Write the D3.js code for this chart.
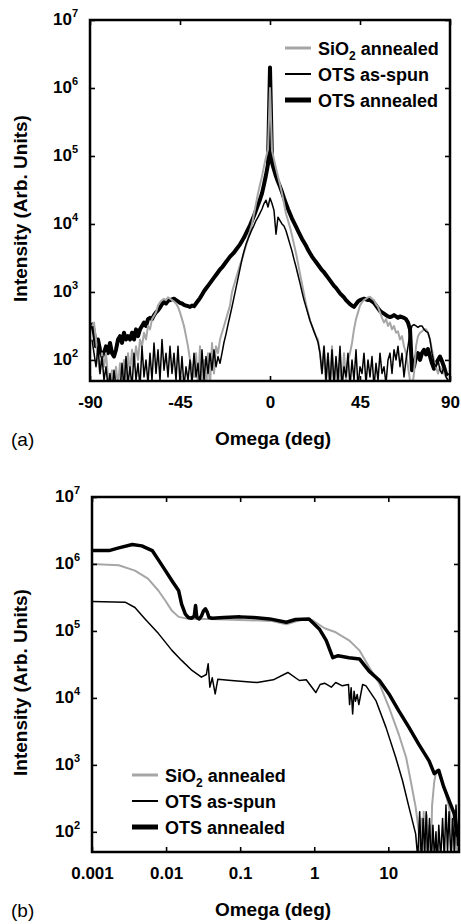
<!DOCTYPE html>
<html>
<head>
  <meta charset="utf-8">
  <title>Omega scans</title>
  <script src="https://d3js.org/d3.v7.min.js"></script>
  <style>
    body { margin: 0; background: #fff; }
    text { font-family: "Liberation Sans", Arial, sans-serif; }
  </style>
</head>
<body>
<script>
// ---- panel (a): omega from -89 to 89 deg, one sample per degree, values are log10(intensity)
var omegaA = d3.range(-89, 90);

var sio2ALog = [
  2.5, 2.55, 2.3, 2.0, 1.8, 2.1, 1.9, 2.1, 1.75, 1.6,
  1.85, 1.55, 1.9, 1.6, 1.95, 1.7, 2.0, 1.65, 2.1, 1.8,
  2.15, 1.9, 2.2, 2.0, 2.3, 2.2, 2.4, 2.3, 2.5, 2.45,
  2.6, 2.65, 2.7, 2.8, 2.85, 2.88, 2.9, 2.88, 2.92, 2.9,
  2.88, 2.86, 2.83, 2.78, 2.7, 2.6, 2.5, 2.35, 2.2, 2.0,
  1.9, 1.75, 2.1, 1.6, 2.2, 1.7, 2.0, 1.5, 2.1, 1.6,
  2.25, 1.8, 2.2, 2.1, 2.3, 2.4, 2.5, 2.6, 2.7, 2.8,
  3.0, 3.1, 3.2, 3.3, 3.4, 3.48, 3.58, 3.68, 3.78, 3.9,
  4.0, 4.15, 4.3, 4.45, 4.58, 4.7, 4.85, 4.98, 5.1, 6.0,
  5.08, 4.95, 4.82, 4.7, 4.58, 4.45, 4.3, 4.15, 4.05, 3.95,
  3.83, 3.7, 3.57, 3.42, 3.27, 3.12, 2.97, 2.82, 2.7, 2.58,
  2.5, 2.42, 2.35, 2.3, 2.1, 1.8, 2.2, 1.6, 2.1, 1.5,
  2.2, 1.6, 1.9, 1.5, 2.0, 1.6, 2.1, 1.7, 2.0, 2.1,
  2.25, 2.45, 2.6, 2.7, 2.8, 2.85, 2.88, 2.9, 2.92, 2.93,
  2.9, 2.88, 2.82, 2.78, 2.7, 2.62, 2.55, 2.6, 2.5, 2.55,
  2.45, 2.5, 2.4, 2.42, 2.3, 2.35, 2.2, 2.1, 1.9, 1.7,
  1.6, 1.8, 2.2, 2.35, 2.4, 2.42, 2.45, 2.45, 2.4, 2.3,
  2.15, 2.0, 1.9, 1.8, 1.9, 1.85, 1.8, 1.75, 1.7
];

var otsSpunALog = [
  2.3, 2.1, 1.9, 2.2, 1.8, 2.05, 1.7, 1.9, 1.6, 1.8,
  1.5, 1.85, 1.6, 1.7, 1.55, 1.95, 1.6, 2.05, 1.65, 1.9,
  1.6, 2.1, 1.7, 1.95, 1.6, 2.2, 1.75, 2.0, 1.65, 2.1,
  1.7, 2.25, 1.8, 2.15, 1.7, 2.3, 1.85, 2.1, 1.75, 2.2,
  1.8, 2.1, 1.7, 2.2, 1.65, 2.05, 1.6, 1.9, 1.7, 2.0,
  1.65, 2.1, 1.75, 1.95, 1.6, 2.15, 1.7, 2.05, 1.8, 2.1,
  1.85, 2.15, 1.9, 2.05, 1.95, 2.1, 2.26, 2.38, 2.52, 2.65,
  2.78, 2.92, 3.06, 3.2, 3.34, 3.48, 3.6, 3.7, 3.78, 3.85,
  3.92, 3.98, 4.05, 4.1, 4.16, 4.22, 4.3, 4.35, 4.25, 4.38,
  4.3, 4.2, 3.85, 4.1, 4.05, 4.0, 3.97, 3.9, 3.8, 3.7,
  3.6, 3.48, 3.37, 3.25, 3.13, 3.0, 2.88, 2.78, 2.68, 2.58,
  2.5, 2.42, 2.34, 2.26, 2.1, 1.8, 2.2, 1.7, 2.1, 1.6,
  2.15, 1.65, 2.05, 1.7, 2.2, 1.6, 1.9, 1.75, 2.1, 1.6,
  2.0, 1.7, 2.15, 1.6, 1.9, 1.8, 2.1, 1.65, 2.0, 1.75,
  2.05, 1.6, 1.95, 1.7, 2.1, 1.8, 1.9, 1.65, 2.0, 2.1,
  1.8, 2.15, 2.0, 2.2, 1.9, 2.1, 1.75, 2.0, 2.2, 2.4,
  2.5, 2.52, 2.5, 2.48, 2.5, 2.5, 2.45, 2.42, 2.4, 2.3,
  2.1, 1.95, 1.9, 2.0, 1.85, 1.8, 1.9, 1.75, 1.7
];

var otsAnnALog = [
  2.55, 2.4, 2.2, 2.3, 2.15, 2.05, 2.1, 2.2, 2.1, 2.25,
  2.1, 2.05, 2.15, 2.3, 2.35, 2.25, 2.4, 2.3, 2.35, 2.3,
  2.4, 2.3, 2.45, 2.35, 2.45, 2.5, 2.55, 2.5, 2.6, 2.62,
  2.6, 2.66, 2.7, 2.73, 2.77, 2.82, 2.85, 2.83, 2.87, 2.88,
  2.89, 2.9, 2.88, 2.86, 2.84, 2.83, 2.81, 2.8, 2.79, 2.78,
  2.8, 2.79, 2.83, 2.87, 2.91, 2.96, 3.01, 3.05, 3.09, 3.13,
  3.17, 3.21, 3.25, 3.29, 3.33, 3.36, 3.4, 3.44, 3.48, 3.52,
  3.55, 3.58, 3.62, 3.66, 3.7, 3.75, 3.8, 3.86, 3.92, 3.98,
  4.05, 4.12, 4.2, 4.28, 4.36, 4.45, 4.58, 4.72, 4.88, 6.3,
  4.9, 4.8, 4.7, 4.62, 4.55, 4.47, 4.38, 4.3, 4.22, 4.15,
  4.08, 4.02, 3.96, 3.9, 3.84, 3.78, 3.73, 3.68, 3.62, 3.57,
  3.52, 3.48, 3.44, 3.4, 3.36, 3.32, 3.29, 3.25, 3.21, 3.17,
  3.13, 3.09, 3.06, 3.02, 2.98, 2.95, 2.92, 2.88, 2.85, 2.82,
  2.8, 2.78, 2.82, 2.86, 2.88, 2.89, 2.9, 2.89, 2.88, 2.88,
  2.86, 2.84, 2.8, 2.76, 2.72, 2.7, 2.68, 2.66, 2.64, 2.63,
  2.64, 2.66, 2.64, 2.62, 2.64, 2.63, 2.62, 2.6, 2.55, 2.45,
  1.85, 1.9, 2.05, 2.1, 2.0, 2.1, 2.15, 2.08, 2.16, 2.05,
  1.95, 1.87, 1.95, 2.0, 2.05, 1.98, 1.9, 1.8, 1.77
];

// ---- panel (b): [omega (deg), log10(intensity)]
var sio2B = [
  [0.001, 6.0], [0.0023, 5.98], [0.0038, 5.9], [0.0057, 5.78], [0.0079, 5.6],
  [0.0098, 5.45], [0.012, 5.3], [0.0148, 5.21], [0.02, 5.18], [0.037, 5.18],
  [0.26, 5.15], [0.42, 5.1], [0.69, 5.17], [0.95, 5.16], [1.38, 5.04],
  [1.95, 4.98], [2.95, 4.86], [4.07, 4.71], [5.5, 4.46], [7.6, 4.21],
  [10.2, 3.86], [13.8, 3.46], [17.4, 3.11], [20, 2.77], [23.4, 2.37],
  [25.7, 2.02], [27, 1.6], [28, 2.2], [29, 1.5], [30, 2.3], [31.5, 1.6],
  [33, 2.25], [34.5, 1.5], [36, 2.1], [37.5, 1.6], [39, 2.4], [41.7, 2.75],
  [44.7, 2.92], [47, 2.9], [53.7, 2.72], [60, 2.55], [66, 2.37], [72, 2.1],
  [77, 1.6], [80, 2.2], [84, 1.7], [88, 2.0], [90, 1.8]
];

var otsSpunB = [
  [0.001, 5.44], [0.0028, 5.43], [0.0038, 5.35], [0.0052, 5.18], [0.0079, 4.96],
  [0.012, 4.71], [0.0162, 4.56], [0.0224, 4.41], [0.03, 4.31], [0.035, 4.35],
  [0.037, 4.51], [0.039, 4.16], [0.042, 4.3], [0.046, 4.06], [0.05, 4.28],
  [0.076, 4.26], [0.17, 4.23], [0.28, 4.27], [0.44, 4.38], [0.63, 4.26],
  [0.78, 4.27], [1.05, 4.08], [1.2, 4.2], [1.38, 4.22], [1.7, 4.16],
  [1.95, 4.23], [2.4, 4.18], [2.9, 4.2], [3.0, 3.9], [3.15, 4.15],
  [3.3, 3.76], [3.45, 4.1], [3.6, 3.95], [3.8, 4.05], [4.0, 3.9],
  [4.5, 4.2], [5.0, 4.18], [6.8, 3.96], [9.3, 3.56], [12.6, 3.11],
  [15.5, 2.77], [19, 2.37], [23.4, 1.97], [25, 1.6], [26.5, 2.3], [28, 1.5],
  [29.5, 2.2], [31, 1.7], [32.5, 2.3], [34, 1.6], [36, 2.2], [38, 1.5],
  [40, 2.1], [42, 1.6], [44, 2.0], [46, 1.5], [48, 2.1], [51, 1.6],
  [54, 2.2], [57, 1.6], [60, 2.4], [63, 1.7], [66, 2.3], [70, 1.6],
  [74, 2.2], [78, 1.7], [82, 2.4], [86, 1.8], [90, 2.3]
];

var otsAnnB = [
  [0.001, 6.2], [0.0017, 6.2], [0.0023, 6.24], [0.0035, 6.29], [0.0047, 6.27],
  [0.0065, 6.2], [0.008, 6.05], [0.0098, 5.9], [0.012, 5.75], [0.0148, 5.6],
  [0.0162, 5.4], [0.0182, 5.25], [0.02, 5.2], [0.022, 5.19], [0.024, 5.22],
  [0.025, 5.38], [0.026, 5.2], [0.028, 5.18], [0.03, 5.22], [0.032, 5.3],
  [0.034, 5.33], [0.036, 5.28], [0.038, 5.2], [0.042, 5.19], [0.06, 5.2],
  [0.1, 5.21], [0.15, 5.2], [0.25, 5.18], [0.42, 5.13], [0.56, 5.17],
  [0.85, 5.18], [1.17, 5.03], [1.45, 4.86], [1.78, 4.6], [2.1, 4.63],
  [2.95, 4.6], [4.1, 4.58], [5.5, 4.4], [7.6, 4.26], [10.2, 4.06],
  [13.8, 3.81], [19, 3.56], [25.7, 3.31], [35.5, 3.06], [41.7, 2.87],
  [47.9, 2.92], [56, 2.67], [66, 2.47], [77.6, 2.27], [85, 1.95], [90, 2.0]
];

// ticks and labels
var xTicksA = [-90, -45, 0, 45, 90];
var xLabelsA = ["-90", "-45", "0", "45", "90"];
var xTicksB = [0.001, 0.01, 0.1, 1, 10];
var xLabelsB = ["0.001", "0.01", "0.1", "1", "10"];
var yTicks = [1e2, 1e3, 1e4, 1e5, 1e6, 1e7];
var yExps = ["2", "3", "4", "5", "6", "7"];

var width = 461, height = 924;
var svg = d3.select("body").append("svg").attr("width", width).attr("height", height);

var xA = d3.scaleLinear().domain([-90, 90]).range([90, 450]);
var yA = d3.scaleLog().domain([49, 1e7]).range([381, 20]);
var xB = d3.scaleLog().domain([0.001, 90]).range([92, 459]);
var yB = d3.scaleLog().domain([50, 1e7]).range([852, 497]);

function frame(x, y, xTicks, xLabels, id) {
  var x0 = x.range()[0], x1 = x.range()[1], y0 = y.range()[0], y1 = y.range()[1];

  svg.append("clipPath").attr("id", id).append("rect")
    .attr("x", x0).attr("y", y1).attr("width", x1 - x0).attr("height", y0 - y1);

  var gb = svg.append("g").attr("transform", "translate(0," + y0 + ")")
    .call(d3.axisBottom(x).tickValues(xTicks).tickSizeInner(-5).tickSizeOuter(0).tickPadding(15)
      .tickFormat(function(d, i) { return xLabels[i]; }));
  gb.selectAll("text").attr("font-size", 17).attr("font-weight", "bold").attr("fill", "#000")
    .attr("font-family", '"Liberation Sans", Arial, sans-serif');

  svg.append("g").attr("transform", "translate(0," + y1 + ")")
    .call(d3.axisTop(x).tickValues(xTicks).tickSizeInner(-5).tickSizeOuter(0).tickFormat(""));
  svg.append("g").attr("transform", "translate(" + x0 + ",0)")
    .call(d3.axisLeft(y).tickValues(yTicks).tickSizeInner(-5).tickSizeOuter(0).tickFormat(""));
  svg.append("g").attr("transform", "translate(" + x1 + ",0)")
    .call(d3.axisRight(y).tickValues(yTicks).tickSizeInner(-5).tickSizeOuter(0).tickFormat(""));

  svg.selectAll(".domain").remove();
  svg.selectAll(".tick line").attr("stroke", "#000").attr("stroke-width", 1.6);

  // y tick labels as 10 with superscript exponent
  var lab = svg.append("g").selectAll("text").data(yTicks).enter().append("text")
    .attr("x", x0 - 12)
    .attr("y", function(d) { return y(d) + 5; })
    .attr("text-anchor", "end")
    .attr("font-size", 17)
    .attr("font-weight", "bold");
  lab.append("tspan").text("10");
  lab.append("tspan").attr("dy", -8).attr("font-size", 11).text(function(d, i) { return yExps[i]; });

  // y title
  svg.append("text")
    .attr("transform", "translate(27," + ((y0 + y1) / 2 + 8) + ") rotate(-90)")
    .attr("text-anchor", "middle")
    .attr("font-size", 19)
    .attr("font-weight", "bold")
    .text("Intensity (Arb. Units)");

  // x title
  svg.append("text")
    .attr("x", 273).attr("y", y0 + 64)
    .attr("text-anchor", "middle")
    .attr("font-size", 19)
    .attr("font-weight", "bold")
    .text("Omega (deg)");
}

function drawLine(data, x, y, clip, color, w) {
  var line = d3.line()
    .x(function(d) { return x(d[0]); })
    .y(function(d) { return y(Math.pow(10, d[1])); });
  svg.append("path")
    .datum(data)
    .attr("clip-path", "url(#" + clip + ")")
    .attr("fill", "none")
    .attr("stroke", color)
    .attr("stroke-width", w)
    .attr("stroke-linejoin", "round")
    .attr("d", line);
}

function legend(lx, ly) {
  var rows = [
    { color: "#a6a6a6", w: 3 },
    { color: "#000", w: 2 },
    { color: "#000", w: 5 }
  ];
  rows.forEach(function(r, i) {
    var cy = ly + i * 26;
    svg.append("line")
      .attr("x1", lx).attr("x2", lx + 26).attr("y1", cy).attr("y2", cy)
      .attr("stroke", r.color).attr("stroke-width", r.w);
    var t = svg.append("text").attr("x", lx + 33).attr("y", cy + 7)
      .attr("font-size", 18).attr("font-weight", "bold");
    if (i === 0) {
      t.append("tspan").text("SiO");
      t.append("tspan").attr("dy", 5).attr("font-size", 12).text("2");
      t.append("tspan").attr("dy", -5).text(" annealed");
    } else if (i === 1) {
      t.text("OTS as-spun");
    } else {
      t.text("OTS annealed");
    }
  });
}

// panel (a)
var sio2A = omegaA.map(function(o, i) { return [o, sio2ALog[i]]; });
var otsSpunA = omegaA.map(function(o, i) { return [o, otsSpunALog[i]]; });
var otsAnnA = omegaA.map(function(o, i) { return [o, otsAnnALog[i]]; });

drawLine(otsAnnA, xA, yA, "clipA", "#000", 4);
drawLine(sio2A, xA, yA, "clipA", "#a6a6a6", 2);
drawLine(otsSpunA, xA, yA, "clipA", "#000", 1.5);
frame(xA, yA, xTicksA, xLabelsA, "clipA");
legend(285, 48);

svg.append("text").attr("x", 11).attr("y", 446).attr("font-size", 19).text("(a)");

// panel (b)
drawLine(sio2B, xB, yB, "clipB", "#a6a6a6", 2);
drawLine(otsSpunB, xB, yB, "clipB", "#000", 1.5);
drawLine(otsAnnB, xB, yB, "clipB", "#000", 3.5);
frame(xB, yB, xTicksB, xLabelsB, "clipB");
legend(132, 775);

svg.append("text").attr("x", 11).attr("y", 917).attr("font-size", 19).text("(b)");

// outer frames on top
[[xA, yA], [xB, yB]].forEach(function(p) {
  var x = p[0], y = p[1];
  svg.append("rect")
    .attr("x", x.range()[0]).attr("y", y.range()[1])
    .attr("width", x.range()[1] - x.range()[0]).attr("height", y.range()[0] - y.range()[1])
    .attr("fill", "none").attr("stroke", "#000").attr("stroke-width", 2.5);
});
</script>
</body>
</html>
